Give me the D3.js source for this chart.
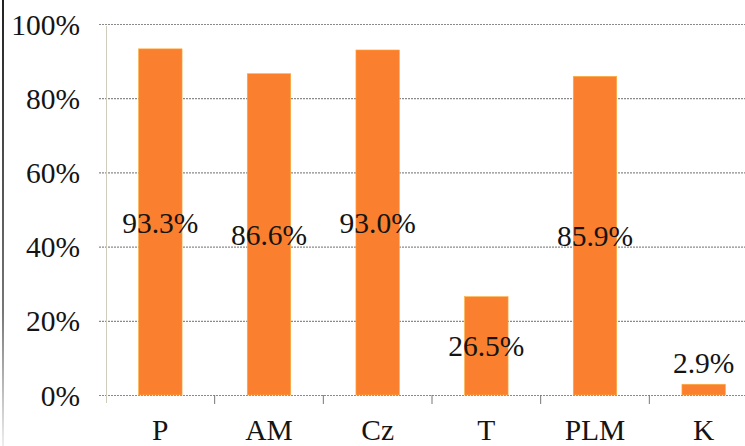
<!DOCTYPE html>
<html>
<head>
<meta charset="utf-8">
<script src="https://cdn.jsdelivr.net/npm/d3@7"></script>
<style>
  html, body { margin: 0; padding: 0; background: #fff; }
  svg { display: block; }
</style>
</head>
<body>
<svg id="chart" width="745" height="446"></svg>
<script>
// Share per category
const categories = ["P", "AM", "Cz", "T", "PLM", "K"];
const shares = [0.933, 0.866, 0.930, 0.265, 0.859, 0.029];
const valueLabels = ["93.3%", "86.6%", "93.0%", "26.5%", "85.9%", "2.9%"];
const yTicks = [0, 0.2, 0.4, 0.6, 0.8, 1.0];
const yTickLabels = ["0%", "20%", "40%", "60%", "80%", "100%"];

const W = 745, H = 446;
const plot = { left: 106, right: 758, top: 24, bottom: 395 };
const FONT = "'Liberation Serif', 'DejaVu Serif', serif";
const FS = 29.5;

const svg = d3.select("#chart")
  .attr("font-family", FONT);

const x = d3.scaleBand()
  .domain(categories)
  .range([plot.left, plot.right])
  .paddingInner(0.6)
  .paddingOuter(0.3);

const y = d3.scaleLinear()
  .domain([0, 1])
  .range([plot.bottom, plot.top]);

// dark left edge line
const grad = svg.append("defs").append("linearGradient")
  .attr("id", "edge").attr("x1", 0).attr("x2", 0).attr("y1", 0).attr("y2", 1);
grad.append("stop").attr("offset", "0%").attr("stop-color", "#222");
grad.append("stop").attr("offset", "70%").attr("stop-color", "#777");
grad.append("stop").attr("offset", "100%").attr("stop-color", "#eee");
svg.append("rect").attr("x", 2).attr("y", 0).attr("width", 2).attr("height", H)
  .attr("fill", "url(#edge)");

// horizontal dotted gridlines with tick stubs
svg.append("g").selectAll("line").data(yTicks).join("line")
  .attr("x1", plot.left - 7).attr("x2", W)
  .attr("y1", d => y(d) + 0.5).attr("y2", d => y(d) + 0.5)
  .attr("stroke", "#8a8a8a").attr("stroke-width", 1.2)
  .attr("stroke-dasharray", "2,1");

// vertical axis line
svg.append("line")
  .attr("x1", plot.left + 0.5).attr("x2", plot.left + 0.5)
  .attr("y1", plot.top + 2).attr("y2", plot.bottom + 8)
  .attr("stroke", "#cfcbbd").attr("stroke-width", 1);

// y tick labels
svg.append("g").selectAll("text").data(yTicks).join("text")
  .attr("x", 80).attr("y", d => y(d))
  .attr("dy", "0.36em")
  .attr("text-anchor", "end")
  .attr("font-size", FS)
  .attr("fill", "#141414")
  .text((d, i) => yTickLabels[i]);

// category boundary ticks below baseline
const step = x.step();
svg.append("g").selectAll("line").data(categories.slice(1)).join("line")
  .attr("x1", c => x(c) - (step - x.bandwidth()) / 2)
  .attr("x2", c => x(c) - (step - x.bandwidth()) / 2)
  .attr("y1", plot.bottom).attr("y2", plot.bottom + 9)
  .attr("stroke", "#777").attr("stroke-width", 1);

// bars
svg.append("g").selectAll("rect").data(categories).join("rect")
  .attr("x", c => x(c))
  .attr("width", x.bandwidth())
  .attr("y", (c, i) => y(shares[i]))
  .attr("height", (c, i) => y(0) - y(shares[i]))
  .attr("fill", "#fa7f2e")
  .attr("stroke", "#fcae3a").attr("stroke-width", 0.6);

// value labels: centred in bar, above the bar when it is too short
svg.append("g").selectAll("text").data(categories).join("text")
  .attr("x", c => x(c) + x.bandwidth() / 2)
  .attr("y", (c, i) => shares[i] > 0.1 ? (y(shares[i]) + y(0)) / 2 : y(shares[i]) - 22)
  .attr("dy", "0.36em")
  .attr("text-anchor", "middle")
  .attr("font-size", FS)
  .attr("fill", "#141414")
  .text((c, i) => valueLabels[i]);

// category labels
svg.append("g").selectAll("text").data(categories).join("text")
  .attr("x", c => x(c) + x.bandwidth() / 2)
  .attr("y", 440)
  .attr("text-anchor", "middle")
  .attr("font-size", FS)
  .attr("fill", "#141414")
  .text(c => c);
</script>
</body>
</html>
